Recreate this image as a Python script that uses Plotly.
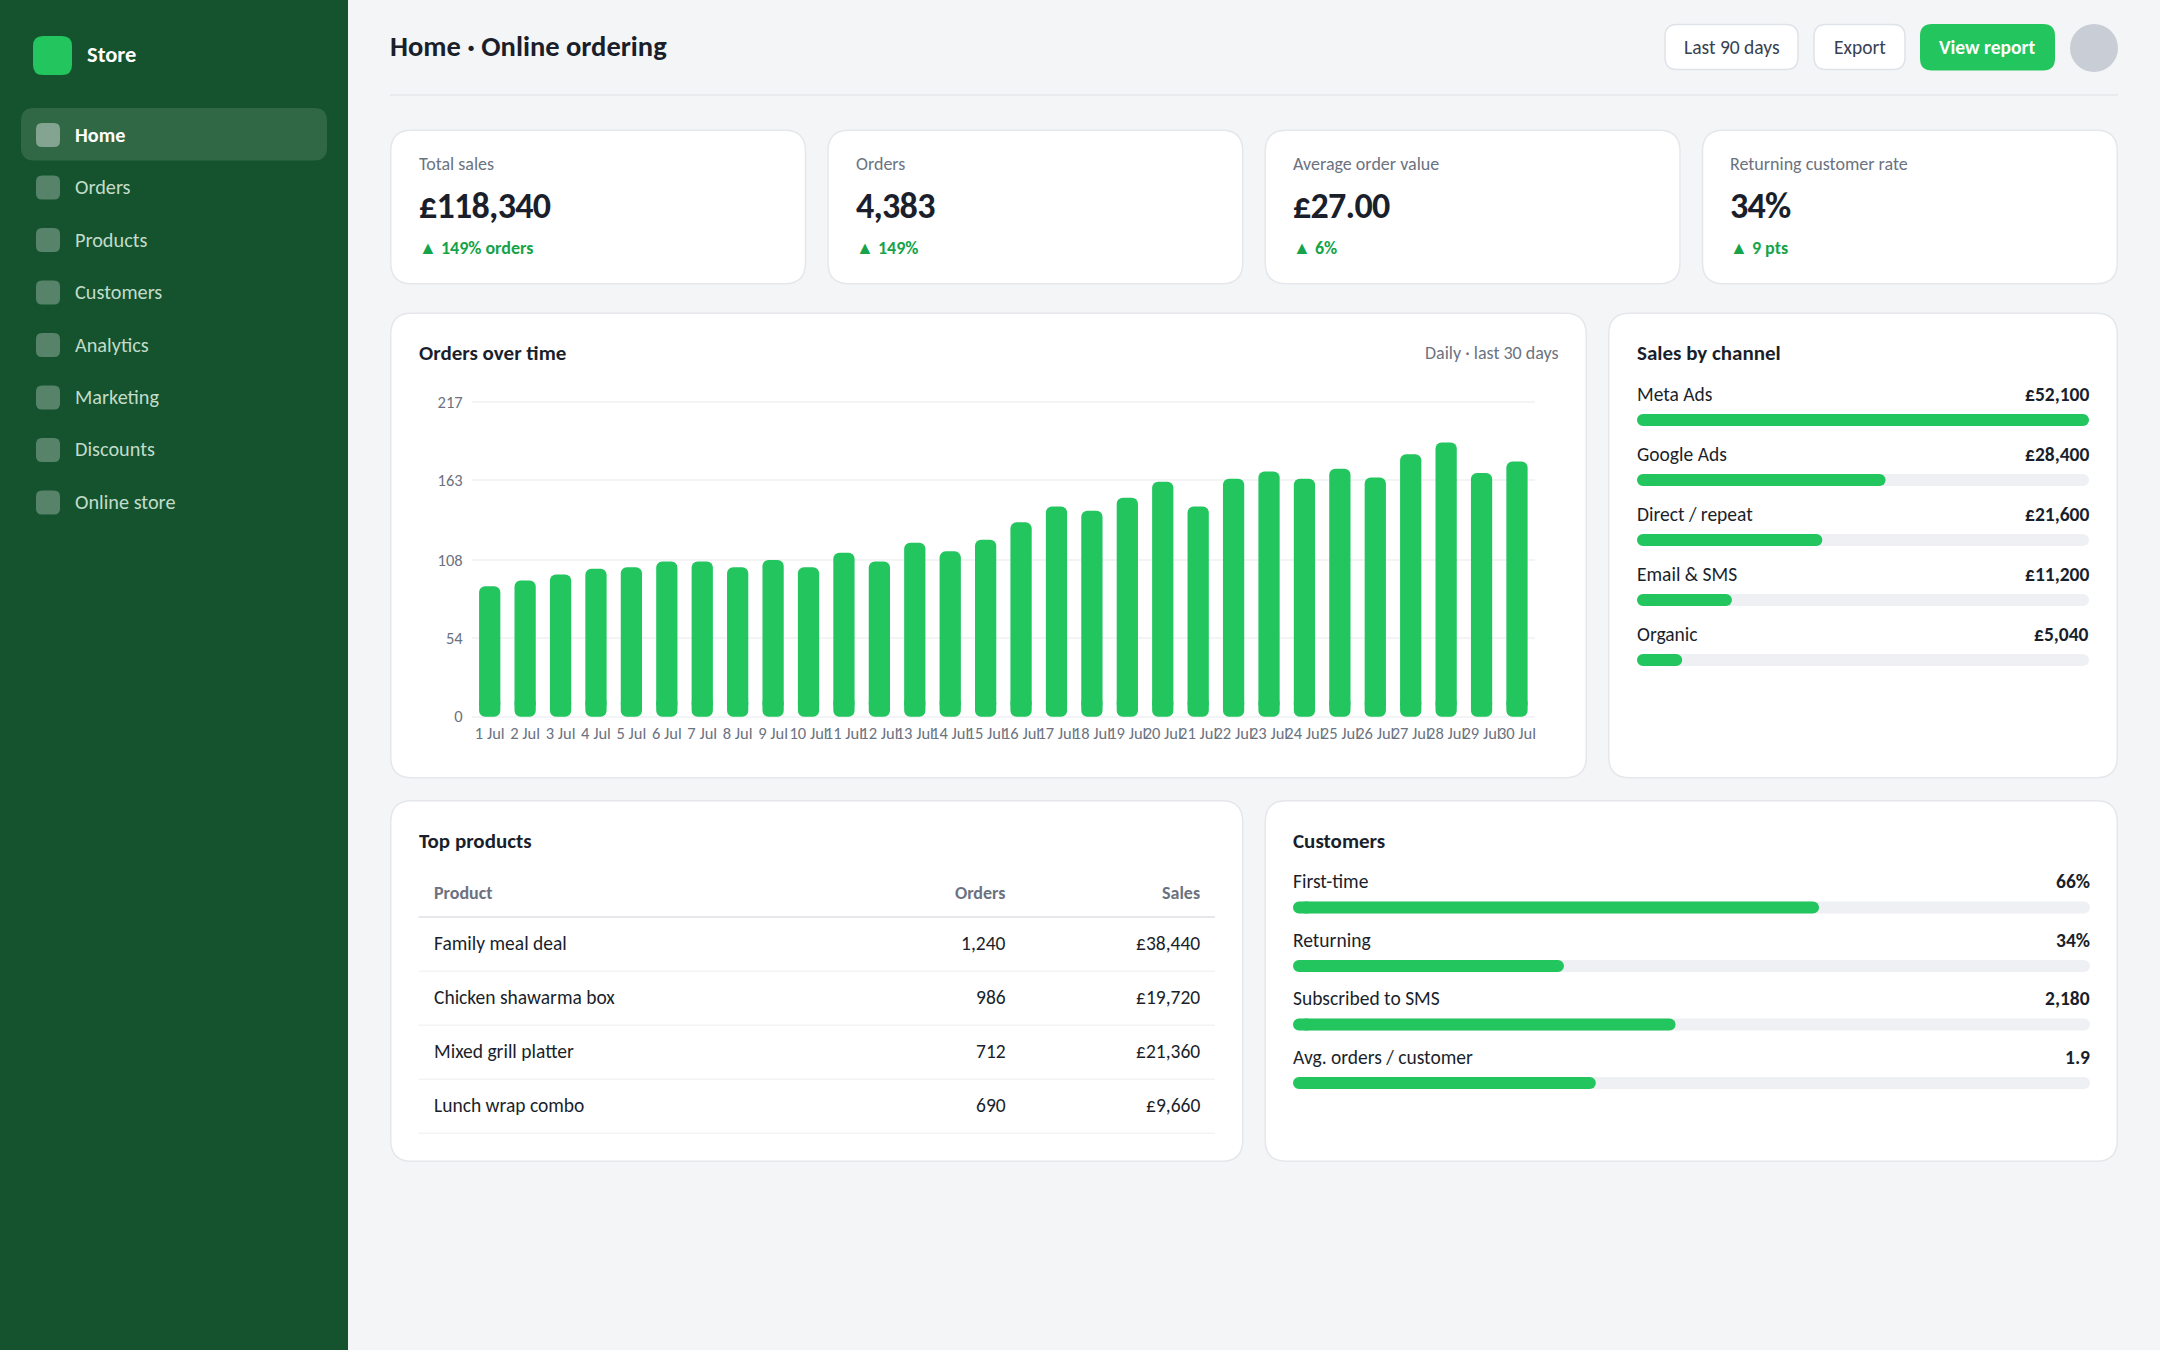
import plotly.graph_objects as go

W, H = 2160, 1350
FONT = "Carlito, Lato"
GREEN = "#22c55e"
INK = "#1a1f2b"
MUTED = "#6b7280"
LINE = "#e5e7eb"
TRACK = "#eef0f4"

# data
nav_items = ["Home", "Orders", "Products", "Customers", "Analytics", "Marketing", "Discounts", "Online store"]

kpi_labels = ["Total sales", "Orders", "Average order value", "Returning customer rate"]
kpi_values = ["£118,340", "4,383", "£27.00", "34%"]
kpi_deltas = ["▲ 149% orders", "▲ 149%", "▲ 6%", "▲ 9 pts"]

days = [f"{d} Jul" for d in range(1, 31)]
orders = [90, 94, 98, 102, 103, 107, 107, 103, 108, 103, 113, 107, 120, 114, 122,
          134, 145, 142, 151, 162, 145, 164, 169, 164, 171, 165, 181, 189, 168, 176]
order_ticks = [0, 54, 108, 163, 217]

channel_names = ["Meta Ads", "Google Ads", "Direct / repeat", "Email & SMS", "Organic"]
channel_sales = ["£52,100", "£28,400", "£21,600", "£11,200", "£5,040"]
channel_share = [100, 55, 41, 21, 10]

product_names = ["Family meal deal", "Chicken shawarma box", "Mixed grill platter", "Lunch wrap combo"]
product_orders = ["1,240", "986", "712", "690"]
product_sales = ["£38,440", "£19,720", "£21,360", "£9,660"]

customer_names = ["First-time", "Returning", "Subscribed to SMS", "Avg. orders / customer"]
customer_labels = ["66%", "34%", "2,180", "1.9"]
customer_share = [66, 34, 48, 38]


def px(x, y):
    return x / W, 1 - y / H


def round_rect(x0, y0, x1, y1, r, fill, line=None, width=0):
    a, b = px(x0, y0)
    c, d = px(x1, y1)
    rx, ry = r / W, r / H
    path = (
        f"M {a + rx} {b} L {c - rx} {b} Q {c} {b} {c} {b - ry} "
        f"L {c} {d + ry} Q {c} {d} {c - rx} {d} "
        f"L {a + rx} {d} Q {a} {d} {a} {d + ry} "
        f"L {a} {b - ry} Q {a} {b} {a + rx} {b} Z"
    )
    return dict(type="path", xref="paper", yref="paper", path=path, fillcolor=fill,
                line=dict(color=line or fill, width=width), layer="below")


def hline(x0, x1, y, color, width=1.5):
    a, b = px(x0, y)
    c, _ = px(x1, y)
    return dict(type="line", xref="paper", yref="paper", x0=a, x1=c, y0=b, y1=b,
                line=dict(color=color, width=width), layer="below")


def note(text, x, y, size, color=INK, weight=400, anchor="left", spacing=None):
    # annotations sit about a pixel inside their anchor point
    shift = {"left": -1.4, "right": 1.4, "center": 0}[anchor]
    a, b = px(x + shift, y)
    if spacing:
        text = f'<span style="letter-spacing:{spacing}px">{text}</span>'
    return dict(text=text, x=a, y=b, xref="paper", yref="paper", xanchor=anchor, yanchor="middle",
                showarrow=False, borderpad=0, font=dict(family=FONT, size=size, color=color, weight=weight))


def pill_bars(fig, cats, vals, color, width, radius, units_per_px, xa, ya, orientation="h"):
    # plotly rounds bars only at the value end, so a short stub coming back
    # from the value axis gives the zero end its round corners too
    start = 1.1 * radius * units_per_px
    stub = start + 2.2 * radius * units_per_px
    rows = (([start] * len(vals), [v - start for v in vals]), ([stub] * len(vals), [-stub] * len(vals)))
    for base, size in rows:
        kw = dict(x=size, y=cats) if orientation == "h" else dict(x=cats, y=size)
        fig.add_trace(go.Bar(orientation=orientation, base=base, width=width, xaxis=xa, yaxis=ya,
                             marker=dict(color=color, cornerradius=radius, line=dict(width=0)),
                             hoverinfo="skip", showlegend=False, **kw))


shapes = []
notes = []

# sidebar
shapes.append(dict(type="rect", xref="paper", yref="paper", x0=0, x1=348 / W, y0=0, y1=1,
                   fillcolor="#14532d", line=dict(width=0), layer="below"))
shapes.append(round_rect(33, 36, 72, 75, 10, GREEN))
notes.append(note("Store", 87, 54.5, 22.5, "#ffffff", 700))
shapes.append(round_rect(21, 108, 327, 160.5, 13, "#306846"))
for i, name in enumerate(nav_items):
    cy = 135 + 52.5 * i
    shapes.append(round_rect(36, cy - 12, 60, cy + 12, 6, "#83a490" if i == 0 else "#56836a"))
    notes.append(note(name, 75, cy - 0.5, 20.25, "#ffffff" if i == 0 else "#c2dccb", 700 if i == 0 else 400))

# header
notes.append(note("Home · Online ordering", 390, 46.5, 28.5, INK, 700))
shapes.append(hline(390, 2118, 95, LINE))
for x0, x1, label in ((1665, 1798, "Last 90 days"), (1814, 1905, "Export")):
    shapes.append(round_rect(x0, 24.5, x1, 69.5, 12, "#ffffff", "#dfe2e8", 1.5))
    notes.append(note(label, (x0 + x1) / 2, 46.5, 19.5, "#374151", 400, "center"))
shapes.append(round_rect(1920, 24, 2055, 70.5, 12, GREEN))
notes.append(note("View report", 1987, 46.5, 19.5, "#ffffff", 700, "center"))
a, b = px(2070, 24)
c, d = px(2118, 72)
shapes.append(dict(type="circle", xref="paper", yref="paper", x0=a, x1=c, y0=d, y1=b,
                   fillcolor="#c9ced6", line=dict(width=0), layer="below"))


def card(x0, y0, x1, y1):
    shapes.append(round_rect(x0 + 0.75, y0 + 0.75, x1 - 0.75, y1 - 0.75, 21, "#ffffff", LINE, 1.5))


# kpi cards
kpi_x = [390, 827.25, 1264.5, 1701.75]
for x, label, value, delta in zip(kpi_x, kpi_labels, kpi_values, kpi_deltas):
    card(x, 129.5, x + 416.25, 284.5)
    notes.append(note(label, x + 29, 163.5, 18, MUTED))
    notes.append(note(value, x + 29, 205.5, 36, INK, 700, spacing=-0.72))
    notes.append(note(delta, x + 29, 247.5, 18, "#16a34a", 700))

# panels
card(390, 312.5, 1587, 778.5)
card(1608, 312.5, 2118, 778.5)
card(390, 800, 1243.5, 1162)
card(1264.5, 800, 2118, 1162)

# orders chart
notes.append(note("Orders over time", 419, 353, 21, INK, 700))
notes.append(note("Daily · last 30 days", 1558.5, 353, 18, MUTED, 400, "right"))

fig = go.Figure()
pill_bars(fig, days, orders, GREEN, 0.6, 6, 1 / 1.45, "x", "y", "v")

# sales by channel
notes.append(note("Sales by channel", 1637, 353, 21, INK, 700))
for i, (name, sales) in enumerate(zip(channel_names, channel_sales)):
    notes.append(note(name, 1637, 394 + 60 * i, 19.5))
    notes.append(note(sales, 2089, 394 + 60 * i, 19.5, INK, 700, "right"))
pill_bars(fig, channel_names, [100] * len(channel_names), TRACK, 0.2, 6, 100 / 452, "x2", "y2")
pill_bars(fig, channel_names, channel_share, GREEN, 0.2, 6, 100 / 452, "x2", "y2")

# top products table
notes.append(note("Top products", 419, 840.5, 21, INK, 700))
notes.append(note("Product", 434, 892.5, 18, MUTED, 700))
notes.append(note("Orders", 1005, 892.5, 18, MUTED, 700, "right"))
notes.append(note("Sales", 1200, 892.5, 18, MUTED, 700, "right"))
shapes.append(hline(418.5, 1215, 917, LINE, 2))
for i, (name, count, sales) in enumerate(zip(product_names, product_orders, product_sales)):
    cy = 943 + 54 * i
    notes.append(note(name, 434, cy, 19.5))
    notes.append(note(count, 1005.5, cy, 19.5, INK, 400, "right"))
    notes.append(note(sales, 1200, cy, 19.5, INK, 400, "right"))
    shapes.append(hline(418.5, 1215, cy + 28.3, "#f3f4f6", 1.5))

# customers
notes.append(note("Customers", 1293, 840.5, 21, INK, 700))
for i, (name, label) in enumerate(zip(customer_names, customer_labels)):
    notes.append(note(name, 1293, 881 + 58.5 * i, 19.5))
    notes.append(note(label, 2090, 881 + 58.5 * i, 19.5, INK, 700, "right"))
pill_bars(fig, customer_names, [100] * len(customer_names), TRACK, 12 / 58.5, 6, 100 / 797, "x3", "y3")
pill_bars(fig, customer_names, customer_share, GREEN, 12 / 58.5, 6, 100 / 797, "x3", "y3")

hidden = dict(visible=False, fixedrange=True)
tick_font = dict(family=FONT, size=16.5, color=MUTED)

fig.update_layout(
    width=W,
    height=H,
    margin=dict(l=0, r=0, t=0, b=0, autoexpand=False),
    paper_bgcolor="#f4f5f7",
    plot_bgcolor="rgba(0,0,0,0)",
    barmode="overlay",
    showlegend=False,
    font=dict(family=FONT),
    shapes=shapes,
    annotations=notes,
    xaxis=dict(domain=[472 / W, 1534.7 / W], type="category", range=[-0.5, 29.5], tickmode="array",
               tickvals=days, ticktext=days, tickangle=0, tickfont=tick_font, showgrid=False,
               zeroline=False, showline=False, ticks="outside", ticklen=0, tickcolor="rgba(0,0,0,0)",
               anchor="y", fixedrange=True),
    # range runs 1.1 past both end ticks so plotly keeps their gridlines
    yaxis=dict(domain=[1 - 718.3 / H, 1 - 400.4 / H], range=[-1.1, 218.1], tickmode="array", tickvals=order_ticks,
               tickfont=tick_font, showgrid=True, gridcolor="#f3f4f6", gridwidth=1.5, zeroline=False,
               showline=False, ticks="outside", ticklen=5, tickcolor="rgba(0,0,0,0)", anchor="x",
               fixedrange=True),
    xaxis2=dict(domain=[1637 / W, 2089 / W], range=[0, 100], anchor="y2", **hidden),
    yaxis2=dict(domain=[1 - 690 / H, 1 - 390 / H], type="category", range=[4.5, -0.5], anchor="x2", **hidden),
    xaxis3=dict(domain=[1293 / W, 2090 / W], range=[0, 100], anchor="y3", **hidden),
    yaxis3=dict(domain=[1 - 1112.25 / H, 1 - 878.25 / H], type="category", range=[3.5, -0.5], anchor="x3", **hidden),
)

# the page's default body margin would push the figure off the window
fig.write_html("out.html", config={"displayModeBar": False}, post_script="document.body.style.margin = '0';")
